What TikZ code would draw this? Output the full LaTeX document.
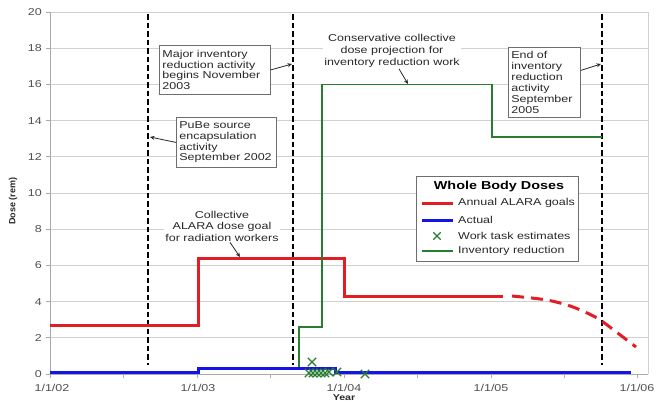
\documentclass[tikz,border=0pt]{standalone}
\usepackage{fontspec}
\setmainfont{Liberation Sans}[FakeStretch=1.25]
\newfontfamily\plainsans{Liberation Sans}
\usetikzlibrary{arrows.meta,shapes.misc}
\definecolor{redl}{RGB}{225,30,35}
\definecolor{bluel}{RGB}{20,20,230}
\definecolor{greenl}{RGB}{40,125,50}
\definecolor{gridc}{RGB}{208,208,208}
\definecolor{axisc}{RGB}{170,170,170}
\definecolor{txt}{RGB}{40,40,40}
\definecolor{ticktxt}{RGB}{80,80,80}
\definecolor{boxc}{RGB}{110,110,110}
\tikzset{
  ticklbl/.style={font=\fontsize{10}{11}\selectfont, text=ticktxt, inner sep=0pt},
  annbox/.style={draw=boxc, line width=0.8pt, fill=white, anchor=north west, align=left,
     inner xsep=3pt, inner ysep=2pt, text=txt, font=\fontsize{10}{10.7}\selectfont},
  anntext/.style={fill=white, align=center, inner sep=1pt, text=txt},
  annarrow/.style={draw=txt, line width=0.8pt, -{Stealth[length=4.5pt,width=4pt]}},
  vdashline/.style={draw=black, line width=2.6pt, dash pattern=on 5.5pt off 3pt},
  redline/.style={draw=redl, line width=3pt},
  blueline/.style={draw=bluel, line width=3pt},
  greenline/.style={draw=greenl, line width=1.8pt},
  xmark/.style={cross out, draw=greenl, line width=1.3pt, minimum size=7pt, inner sep=0pt},
  legtxt/.style={anchor=west, inner sep=0pt, text=txt, font=\fontsize{10}{11}\selectfont},
}
\begin{document}
\begin{tikzpicture}[x=1pt,y=-1pt]
\useasboundingbox (0,0) rectangle (656,402);
\fill[white] (0,0) rectangle (656,402);

% grid
\foreach \d in {2,4,...,20}
  \draw[gridc, line width=0.8pt] (50,{374-18.1*\d}) -- (648,{374-18.1*\d});
\draw[gridc, line width=0.8pt] (648,12) -- (648,374);
\draw[axisc, line width=0.8pt] (50,12) -- (50,374) -- (648,374);
% y ticks and labels
\foreach \d in {0,2,...,20} {
  \draw[axisc, line width=0.8pt] (46,{374-18.1*\d}) -- (50,{374-18.1*\d});
  \node[ticklbl, anchor=east] (ylbl\d) at (42,{374-18.1*\d}) {\d};
}
% x ticks
\foreach \px in {50,123.3,197,270.3,344,417.3,491,564.3,637}
  \draw[axisc, line width=0.8pt] (\px,374) -- (\px,378);
\node[ticklbl] (x02) at (52,388) {1/1/02};
\node[ticklbl] (x03) at (198,388) {1/1/03};
\node[ticklbl] (x04) at (344,388) {1/1/04};
\node[ticklbl] (x05) at (491,388) {1/1/05};
\node[ticklbl] (x06) at (637,388) {1/1/06};
\node[font=\plainsans\bfseries\fontsize{9}{10}\selectfont, text=txt, rotate=90] (ylab) at (13,201) {Dose (rem)};
\node[font=\bfseries\fontsize{8.5}{9}\selectfont, text=txt, inner sep=0pt, anchor=base] (xlab) at (344,400.5) {Year};

% dashed event lines
\draw[vdashline] (148,14) -- (148,365);
\draw[vdashline] (293,14) -- (293,365);
\draw[vdashline] (602,14) -- (602,365);

% data
\draw[redline] (50,325) -- (198,325) -- (198,258) -- (344,258) -- (344,296) -- (503,296);
\draw[redline, dash pattern=on 12pt off 7pt] plot[smooth] coordinates {(512,296) (547,300) (573,307) (597,318) (615,331) (636,347)};
\draw[greenline] (299,369) -- (299,327) -- (322,327) -- (322,84.5) -- (492,84.5) -- (492,137) -- (602,137);
\draw[blueline] (50,372.5) -- (198,372.5) -- (198,368.5) -- (335,368.5) -- (335,372.5) -- (631,372.5);
\foreach \mx/\my [count=\i] in {312/362,309/373,313/373,317/373,321/373,325/373,329/372,337/372,365/374}
  \node[xmark] (wt\i) at (\mx,\my) {};

% annotations
\coordinate (tA) at (292,64);
\coordinate (tB) at (150,137);
\coordinate (tC) at (601,64);
\coordinate (tD) at (408,84);
\coordinate (tE) at (240,257);
\node[annbox, text width=105pt, minimum height=49pt] (boxA) at (159,45)
  {Major inventory\\reduction activity\\begins November\\2003};
\node[annbox, text width=94pt, minimum height=50pt] (boxB) at (176,117)
  {PuBe source\\encapsulation\\activity\\September 2002};
\node[annbox, text width=66pt, minimum height=70pt, font=\fontsize{10}{11}\selectfont] (boxC) at (508,47)
  {End of\\inventory\\reduction\\activity\\September\\2005};
\node[anntext, font=\fontsize{10}{12}\selectfont] (txtD) at (392,51)
  {Conservative collective\\dose projection for\\inventory reduction work};
\node[anntext, font=\fontsize{10}{11.5}\selectfont] (txtE) at (222,226)
  {Collective\\ALARA dose goal\\for radiation workers};
\draw[annarrow] (boxA.east) -- (tA);
\draw[annarrow] (boxB.west) -- (tB);
\draw[annarrow] ([yshift=12pt]boxC.east) -- (tC);
\draw[annarrow] ([xshift=7pt]txtD.south) -- (tD);
\draw[annarrow] ([xshift=8pt]txtE.south) -- (tE);

% legend
\node[draw=boxc, line width=0.8pt, fill=white, minimum width=162pt, minimum height=85pt, anchor=north west, inner sep=0pt] (leg) at (416,176) {};
\node[font=\bfseries\fontsize{11.5}{12}\selectfont, text=black, inner sep=0pt] (legT) at (499,187) {Whole Body Doses};
\coordinate (l1a) at (422,203); \coordinate (l1b) at (453,203);
\coordinate (l2a) at (422,220); \coordinate (l2b) at (453,220);
\coordinate (l4a) at (422,251); \coordinate (l4b) at (453,251);
\draw[redline] (l1a) -- (l1b);
\draw[blueline] (l2a) -- (l2b);
\node[xmark, minimum size=6pt] (legX) at (437,236) {};
\draw[greenline] (l4a) -- (l4b);
\node[legtxt] (leg1) at (458,203) {Annual ALARA goals};
\node[legtxt] (leg2) at (458,220) {Actual};
\node[legtxt] (leg3) at (458,236) {Work task estimates};
\node[legtxt] (leg4) at (458,251) {Inventory reduction};
\end{tikzpicture}
\end{document}
